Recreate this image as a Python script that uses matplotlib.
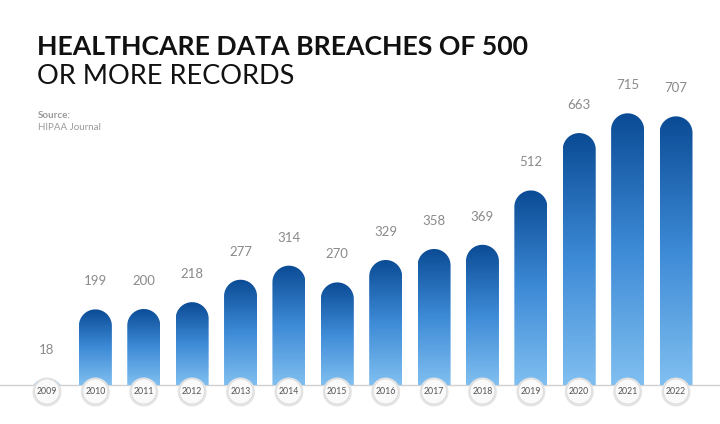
import numpy as np
import matplotlib
matplotlib.use("Agg")
import matplotlib.pyplot as plt
from matplotlib.path import Path
from matplotlib.patches import PathPatch, Ellipse
from matplotlib.colors import LinearSegmentedColormap

years = ["2009","2010","2011","2012","2013","2014","2015","2016","2017","2018","2019","2020","2021","2022"]
breaches = [18,199,200,218,277,314,270,329,358,369,512,663,715,707]

W, H = 720, 424
fig = plt.figure(figsize=(7.2, 4.24), dpi=100)
ax = fig.add_axes([0, 0, 1, 1])
ax.axis("off")
sp = (676 - 47) / 13.0
pxu = 0.38
ax.set_xlim(-47 / sp, 13 + (W - 676) / sp)
ybot = -39 / pxu
ax.set_ylim(ybot, ybot + H / pxu)

cmap = LinearSegmentedColormap.from_list("b", ["#80bff0", "#3d8ad6", "#0b4b95"])
bw = 33 / sp
rx = bw / 2
ry = 16.5 / pxu
grad = np.linspace(0, 1, 256).reshape(-1, 1)

ax.axhline(0, color="#d0d0d0", lw=1, zorder=1)
for i, (y, v) in enumerate(zip(years, breaches)):
    x0, x1 = i - rx, i + rx
    cy = v - ry
    th = np.linspace(0, np.pi, 40)
    arc = [(i + rx * np.cos(t), cy + ry * np.sin(t)) for t in th]
    verts = [(x1, 0)] + arc + [(x0, 0), (x1, 0)]
    verts = [(px, max(py, 0)) for px, py in verts]
    patch = PathPatch(Path(verts), facecolor="none", edgecolor="none")
    ax.add_patch(patch)
    im = ax.imshow(grad, cmap=cmap, aspect="auto", origin="lower",
                   extent=[x0, x1, 0, max(v, 1)], zorder=2)
    im.set_clip_path(patch)
    ax.text(i, v + 22 / pxu, str(v), ha="center", va="bottom", fontsize=9.5,
            color="#8a8a8a", family="Lato")
    ax.add_patch(Ellipse((i, -18.5), 29 / sp, 29 / pxu, facecolor="#e4e4e4",
                         edgecolor="none", zorder=3))
    ax.add_patch(Ellipse((i, -17), 25 / sp, 25 / pxu, facecolor="#fafafa",
                         edgecolor="#dcdcdc", lw=0.6, zorder=4))
    ax.text(i, -17, y, ha="center", va="center", fontsize=6.3, color="#555555",
            family="Lato", zorder=5)

fig.text(37 / W, 1 - 47 / H, "HEALTHCARE DATA BREACHES OF 500", fontsize=19.2,
         fontweight="bold", family="Lato", va="center", ha="left", color="#111111")
fig.text(37 / W, 1 - 77 / H, "OR MORE RECORDS", fontsize=19.5, fontweight="normal",
         family="Lato", va="center", ha="left", color="#111111")
fig.text(38 / W, 1 - 116 / H, "Source:", fontsize=7, fontweight="bold",
         family="Lato", va="center", color="#9a9a9a")
fig.text(38 / W, 1 - 128 / H, "HIPAA Journal", fontsize=7, family="Lato",
         va="center", color="#9a9a9a")
fig.savefig("out.png", dpi=100)
